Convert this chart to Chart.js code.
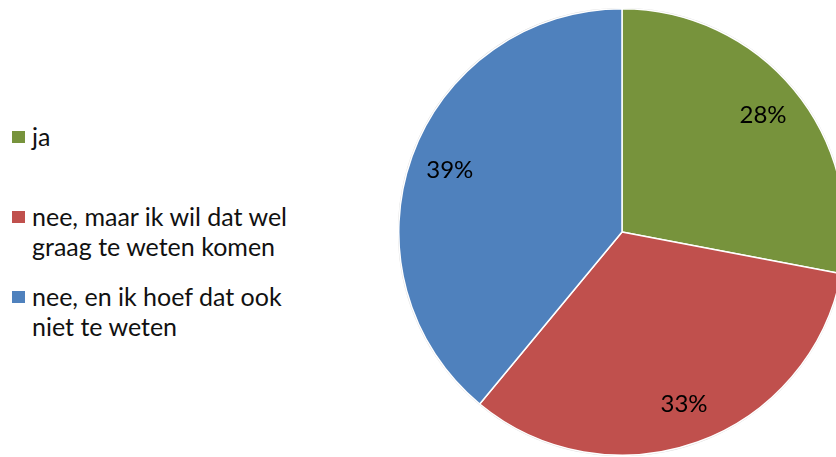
<!DOCTYPE html>
<html lang="nl">
<head>
    <meta charset="UTF-8">
    <title>Taartdiagram</title>
    <script src="https://cdn.jsdelivr.net/npm/chart.js"></script>
    <style>
        html, body { margin: 0; padding: 0; background: #fff; overflow: hidden; width: 836px; height: 457px; }
        #legenda { position: absolute; left: 12px; top: 0; font-family: Lato, sans-serif; font-size: 25px; color: #111; }
        .item { position: absolute; left: 0; width: 320px; line-height: 30px; }
        .item span.blok { position: absolute; left: 0; width: 13px; height: 12px; }
        .item .tekst { position: absolute; left: 20px; width: 300px; white-space: nowrap; }
        #taart { position: absolute; left: 398px; top: 8px; }
    </style>
</head>
<body>
    <div id="legenda"></div>
    <canvas id="taart" width="448" height="448"></canvas>

    <script>
        const categorieen = ['ja', 'nee, maar ik wil dat wel graag te weten komen', 'nee, en ik hoef dat ook niet te weten'];
        const percentages = [28, 33, 39];
        const kleuren = ['#77933C', '#C0504D', '#4F81BD'];

        // legenda links (posities zoals in het origineel)
        const legendaTop = [121, 201, 281];
        const legendaRegels = [['ja'], ['nee, maar ik wil dat wel', 'graag te weten komen'], ['nee, en ik hoef dat ook', 'niet te weten']];
        const legenda = document.getElementById('legenda');
        categorieen.forEach((c, i) => {
            const div = document.createElement('div');
            div.className = 'item';
            div.style.top = legendaTop[i] + 'px';
            div.innerHTML = '<span class="blok" style="top:10px;background:' + kleuren[i] + '"></span>' +
                '<div class="tekst">' + legendaRegels[i].join('<br>') + '</div>';
            legenda.appendChild(div);
        });

        // lichte schaduwrand om de taart
        const randPlugin = {
            id: 'rand',
            beforeDatasetsDraw(chart) {
                const arc = chart.getDatasetMeta(0).data[0];
                const ctx = chart.ctx;
                ctx.save();
                ctx.beginPath();
                ctx.arc(arc.x, arc.y, arc.outerRadius + 1, 0, Math.PI * 2);
                ctx.fillStyle = '#d9d9d9';
                ctx.fill();
                ctx.restore();
            }
        };

        // percentage labels in de taart
        const labelPlugin = {
            id: 'labels',
            afterDatasetsDraw(chart) {
                const ctx = chart.ctx;
                const meta = chart.getDatasetMeta(0);
                ctx.save();
                ctx.font = '24px Lato, sans-serif';
                ctx.fillStyle = '#000';
                ctx.textAlign = 'center';
                ctx.textBaseline = 'middle';
                meta.data.forEach((arc, i) => {
                    const hoek = (arc.startAngle + arc.endAngle) / 2;
                    const r = arc.outerRadius * 0.82;
                    ctx.fillText(percentages[i] + '%', arc.x + Math.cos(hoek) * r, arc.y + Math.sin(hoek) * r);
                });
                ctx.restore();
            }
        };

        new Chart(document.getElementById('taart').getContext('2d'), {
            type: 'pie',
            data: {
                labels: categorieen,
                datasets: [{
                    data: percentages,
                    backgroundColor: kleuren,
                    borderColor: '#ffffff',
                    borderWidth: 1.5
                }]
            },
            options: {
                responsive: false,
                animation: false,
                layout: { padding: 0 },
                plugins: {
                    legend: { display: false },
                    tooltip: { enabled: false }
                }
            },
            plugins: [randPlugin, labelPlugin]
        });
    </script>
</body>
</html>
